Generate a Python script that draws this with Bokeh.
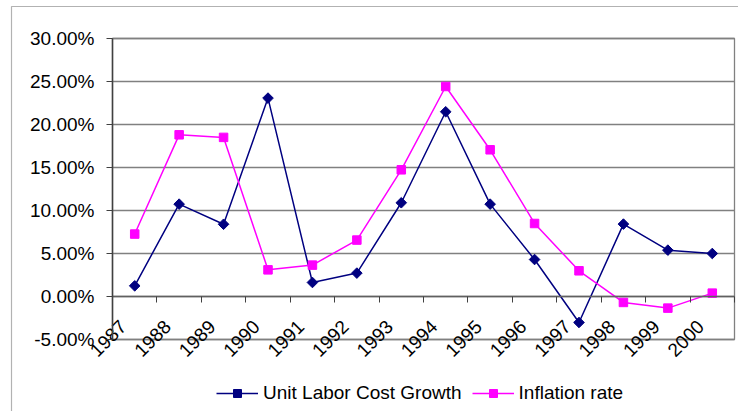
import numpy as np
from bokeh.plotting import figure
from bokeh.models import (Range1d, LinearAxis, FixedTicker, NumeralTickFormatter,
                          Legend, LegendItem, ColumnDataSource, BoxAnnotation)
from bokeh.embed import file_html
from bokeh.resources import INLINE

# ---- data ----
years = ["1987", "1988", "1989", "1990", "1991", "1992", "1993",
         "1994", "1995", "1996", "1997", "1998", "1999", "2000"]
unit_labor_cost_growth = [1.24, 10.74, 8.40, 23.07, 1.63, 2.72, 10.90,
                          21.48, 10.74, 4.30, -3.02, 8.42, 5.39, 5.00]   # percent
inflation_rate = [7.26, 18.80, 18.50, 3.10, 3.65, 6.56, 14.73,
                  24.42, 17.06, 8.49, 2.99, -0.69, -1.35, 0.39]          # percent
y_ticks = [-5, 0, 5, 10, 15, 20, 25, 30]                                  # percent

FONT = "Liberation Sans"
NAVY = "#000080"
MAGENTA = "#FF00FF"
GRID = "#808080"

W, H = 738, 411
# plot-area placement in canvas pixels
PL, PR, PT, PB = 112, 734, 38, 339

n = len(years)
LABEL_SHIFT = 0.26          # rotated label anchor sits left of the category centre
centres = [i + LABEL_SHIFT for i in range(n)]
bounds = [c - 0.5 for c in centres] + [centres[-1] + 0.5]

yt = [v / 100 for v in y_ticks]
ymin, ymax = yt[0], yt[-1]

# ranges chosen so that the frame is the whole canvas and the plot area sits at PL..PR, PT..PB
cw = (PR - PL) / n
yu = (PB - PT) / (ymax - ymin)
x_range = Range1d(bounds[0] - PL / cw, bounds[-1] + (W - PR) / cw)
y_range = Range1d(ymin - (H - PB) / yu, ymax + PT / yu)

src = ColumnDataSource(dict(
    x=centres,
    ulc=[v / 100 for v in unit_labor_cost_growth],
    inf=[v / 100 for v in inflation_rate],
))

p = figure(width=W, height=H, x_range=x_range, y_range=y_range,
           x_axis_location=None, y_axis_location=None,
           output_backend="svg", toolbar_location=None,
           min_border=0)
p.background_fill_color = "white"
p.border_fill_color = "white"
p.outline_line_color = None
p.xgrid.grid_line_color = None
p.ygrid.grid_line_color = None

# horizontal gridlines limited to the plot area
p.segment(x0=[bounds[0]] * len(yt), x1=[bounds[-1]] * len(yt), y0=yt, y1=yt,
          line_color=GRID, line_width=1.3)
# plot-area border
p.quad(left=[bounds[0]], right=[bounds[-1]], bottom=[ymin], top=[ymax],
       fill_color=None, line_color=GRID, line_width=1.3)

# y axis at the plot area's left edge
yaxis = LinearAxis(ticker=FixedTicker(ticks=yt), fixed_location=bounds[0],
                   bounds=(ymin, ymax),
                   formatter=NumeralTickFormatter(format="0.00%"),
                   major_label_text_font=FONT, major_label_text_font_size="19px",
                   major_label_text_color="black",
                   axis_line_color="#404040", axis_line_width=1.5,
                   major_tick_line_color="#404040", major_tick_in=0, major_tick_out=6,
                   minor_tick_line_color=None, major_label_standoff=12)
p.add_layout(yaxis, "left")

# x axis: tick marks at category boundaries, crossing at 0
tick_axis = LinearAxis(ticker=FixedTicker(ticks=bounds), fixed_location=0,
                       bounds=(bounds[0], bounds[-1]),
                       major_label_text_color=None,
                       axis_line_color="#606060", axis_line_width=1.3,
                       major_tick_line_color="#404040", major_tick_in=0,
                       major_tick_out=6, minor_tick_line_color=None)
p.add_layout(tick_axis, "below")

# x axis: rotated year labels
label_axis = LinearAxis(ticker=FixedTicker(ticks=list(range(n))), fixed_location=0,
                        major_label_overrides={i: y for i, y in enumerate(years)},
                        major_label_orientation=np.pi / 4,
                        major_label_text_font=FONT,
                        major_label_text_font_size="19px",
                        major_label_text_color="black",
                        major_label_standoff=21,
                        axis_line_color=None, major_tick_line_color=None,
                        minor_tick_line_color=None)
p.add_layout(label_axis, "below")

# series
l1 = p.line("x", "ulc", source=src, line_color=NAVY, line_width=1.5)
m1 = p.scatter("x", "ulc", source=src, marker="square", angle=np.pi / 4, size=7.5,
               fill_color=NAVY, line_color=NAVY)
l2 = p.line("x", "inf", source=src, line_color=MAGENTA, line_width=1.5)
m2 = p.scatter("x", "inf", source=src, marker="square", size=8.5,
               fill_color=MAGENTA, line_color=MAGENTA)

legend = Legend(items=[LegendItem(label="Unit Labor Cost Growth", renderers=[l1, m1]),
                       LegendItem(label="Inflation rate", renderers=[l2, m2])],
                location=(216, 7), orientation="horizontal",
                glyph_width=42, glyph_height=20, label_standoff=5, spacing=10,
                padding=0, margin=0, border_line_color=None,
                background_fill_alpha=0,
                label_text_font=FONT, label_text_font_size="19px",
                label_text_color="black")
p.add_layout(legend, "center")

# outer chart-area border
p.add_layout(BoxAnnotation(left=11, right=5000, top=6, bottom=5000,
                           left_units="canvas", right_units="canvas",
                           top_units="canvas", bottom_units="canvas",
                           fill_color=None, line_color="black", line_width=1.2,
                           level="overlay"))

open("out.html", "w").write(file_html(p, INLINE))
